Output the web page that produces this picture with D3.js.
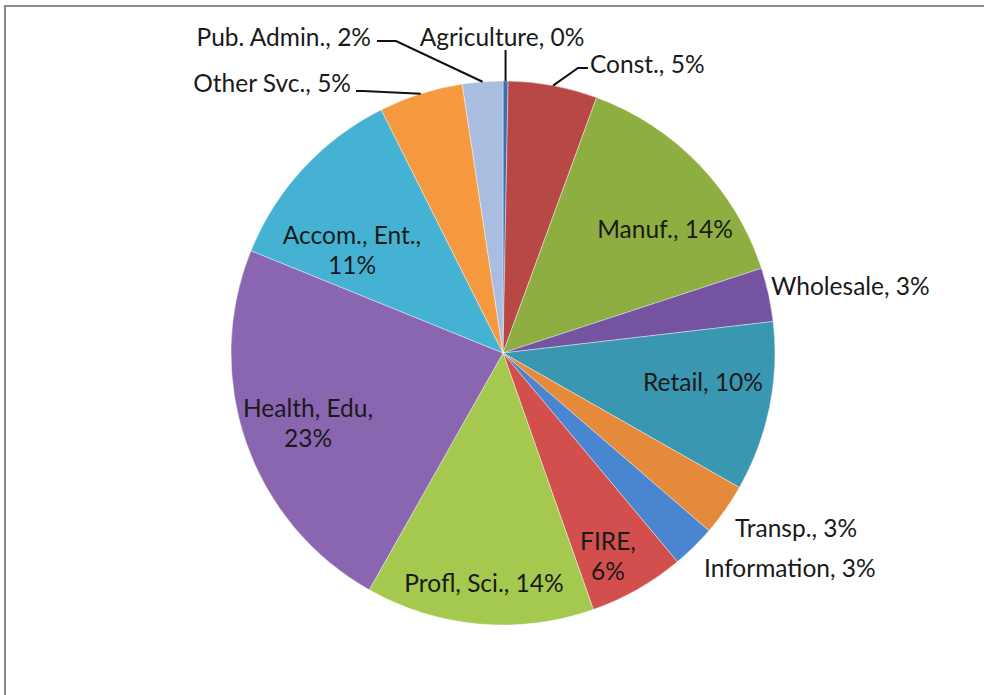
<!DOCTYPE html>
<html><head><meta charset="utf-8">
<script src="https://cdn.jsdelivr.net/npm/d3@7/dist/d3.min.js"></script>
<style>body{margin:0;background:#fff}svg{display:block}</style>
</head><body><svg id="c" width="984" height="695"></svg>
<script>
const categories = ["Agriculture","Const.","Manuf.","Wholesale","Retail","Transp.","Information","FIRE","Profl, Sci.","Health, Edu","Accom., Ent.","Other Svc.","Pub. Admin."];
const values = [0.3, 5.3, 14.4, 3.2, 10.1, 3.1, 2.6, 5.7, 13.6, 23.0, 11.5, 5.0, 2.4];
const pctLabels = ["0%","5%","14%","3%","10%","3%","3%","6%","14%","23%","11%","5%","2%"];
const colors = ["#3d6fb0","#b84846","#8fae42","#7453a0","#3a97b2","#e5893b","#4a86cf","#d24f4d","#a5c84f","#8a66b0","#46b2d3","#f7993f","#a9bde0"];

// label layout (annotation positions, lines of text)
const labelLayout = [
  {x:502, y:37, anchor:"middle", lines:["Agriculture, 0%"], leader:"vert"},
  {x:590, y:64, anchor:"start", lines:["Const., 5%"], leader:"const"},
  {x:665, y:229, anchor:"middle", lines:["Manuf., 14%"]},
  {x:771, y:286, anchor:"start", lines:["Wholesale, 3%"]},
  {x:703, y:382, anchor:"middle", lines:["Retail, 10%"]},
  {x:735, y:528, anchor:"start", lines:["Transp., 3%"]},
  {x:704, y:568, anchor:"start", lines:["Information, 3%"]},
  {x:608, y:541, anchor:"middle", lines:["FIRE,","6%"]},
  {x:484, y:583, anchor:"middle", lines:["Profl, Sci., 14%"]},
  {x:308, y:408, anchor:"middle", lines:["Health, Edu,","23%"]},
  {x:352, y:235, anchor:"middle", lines:["Accom., Ent.,","11%"]},
  {x:351, y:83, anchor:"end", lines:["Other Svc., 5%"], leader:"other"},
  {x:371, y:37, anchor:"end", lines:["Pub. Admin., 2%"], leader:"pub"}
];

const svg = d3.select("#c");
svg.append("rect").attr("x",5).attr("y",6).attr("width",1000).attr("height",720)
  .attr("fill","#fff").attr("stroke","#8a8a8a").attr("stroke-width",2);

const cx = 503, cy = 353, R = 272;
const g = svg.append("g").attr("transform",`translate(${cx},${cy})`);
const pie = d3.pie().sort(null).value(d=>d)(values);
const arc = d3.arc().innerRadius(0).outerRadius(R);
g.selectAll("path").data(pie).join("path")
  .attr("d",arc).attr("fill",(d,i)=>colors[i]).attr("stroke","#fff").attr("stroke-width",0.4);

const font = "Lato, 'Open Sans', sans-serif";
const fs = 24.5;
const lg = svg.append("g");
labelLayout.forEach((L,i)=>{
  const t = lg.append("text").attr("x",L.x).attr("y",L.y).attr("text-anchor",L.anchor)
    .attr("font-family",font).attr("font-size",fs).attr("fill","#1a1a1a");
  L.lines.forEach((s,k)=>{
    t.append("tspan").attr("x",L.x).attr("y", L.y + k*30).attr("dy","0.35em").text(s);
  });
  if (L.leader) {
    const a = (pie[i].startAngle + pie[i].endAngle)/2;
    const ex = cx + R*Math.sin(a), ey = cy - R*Math.cos(a);
    let pts;
    if (L.leader==="vert") pts = [[ex, L.y+13],[ex,ey]];
    else if (L.leader==="const") pts = [[L.x-2, L.y+4],[L.x-12, L.y+4],[ex,ey]];
    else if (L.leader==="other") pts = [[L.x+5, L.y+8],[L.x+12, L.y+8],[ex,ey]];
    else pts = [[L.x+6, L.y+4],[L.x+25, L.y+4],[ex,ey]];
    lg.append("path").attr("d", d3.line()(pts)).attr("fill","none").attr("stroke","#111").attr("stroke-width",2);
  }
});
</script></body></html>
